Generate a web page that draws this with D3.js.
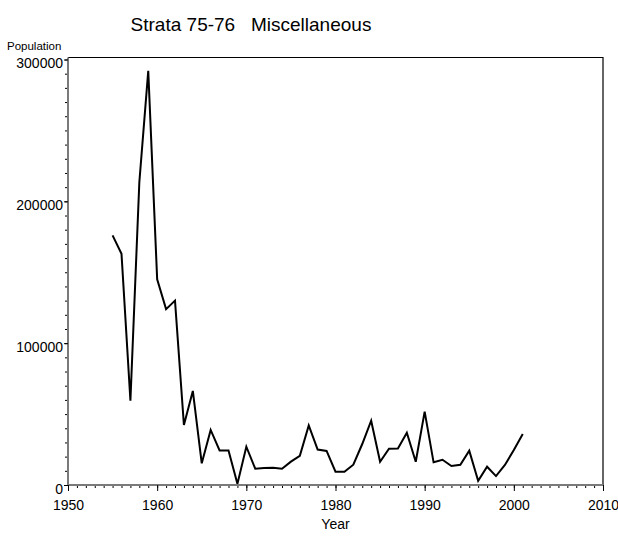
<!DOCTYPE html>
<html>
<head>
<meta charset="utf-8">
<script src="https://cdn.jsdelivr.net/npm/d3@7"></script>
<style>
  html, body { margin: 0; padding: 0; background: #fff; }
  svg { display: block; font-family: Arial, "Liberation Sans", sans-serif; }
</style>
</head>
<body>
<svg id="chart" width="618" height="537"></svg>
<script>
// Yearly population estimates, stratum 75-76, miscellaneous species
const years = [1955,1956,1957,1958,1959,1960,1961,1962,1963,1964,1965,1966,1967,1968,1969,1970,
  1971,1972,1973,1974,1975,1976,1977,1978,1979,1980,1981,1982,1983,1984,1985,1986,1987,1988,
  1989,1990,1991,1992,1993,1994,1995,1996,1997,1998,1999,2000,2001];
const population = [176000,163000,59500,213500,292000,145000,124000,130000,42300,66300,15300,38800,
  24400,24400,800,27000,11500,12000,12200,11500,16500,20600,42000,25000,24000,9400,9400,14300,
  28900,45300,16400,25600,25800,36900,16400,51700,16000,17800,13400,14300,24200,3000,12900,6300,
  14100,24700,36000];
const xTicks = [1950,1960,1970,1980,1990,2000,2010];
const yTicks = [0,100000,200000,300000];

const svg = d3.select("#chart");
const plotL = 68, plotR = 603, plotT = 59.5, plotB = 485, frameT = 57.5;

const x = d3.scaleLinear().domain([1950, 2010]).range([plotL, plotR]);
const y = d3.scaleLinear().domain([0, 300000]).range([plotB, plotT]);

// frame: top and right edges
svg.append("path")
  .attr("d", `M${plotL},${frameT}H${plotR}V${plotB}`)
  .attr("fill", "none").attr("stroke", "#000").attr("stroke-width", 1.2);

// minor ticks
const gx = svg.append("g").attr("transform", `translate(0,${plotB})`);
gx.call(d3.axisBottom(x).tickValues(d3.range(1950, 2011, 1)).tickSize(3).tickFormat(""))
  .call(g => g.select(".domain").remove());
const gy = svg.append("g").attr("transform", `translate(${plotL},0)`);
gy.call(d3.axisLeft(y).tickValues(d3.range(0, 300001, 10000)).tickSize(3).tickFormat(""))
  .call(g => g.select(".domain").remove());

// major axes
const ax = svg.append("g").attr("transform", `translate(0,${plotB})`)
  .call(d3.axisBottom(x).tickValues(xTicks).tickSize(6).tickPadding(9).tickFormat(d3.format("d")));
const ay = svg.append("g").attr("transform", `translate(${plotL},0)`)
  .call(d3.axisLeft(y).tickValues(yTicks).tickSize(4).tickPadding(1).tickFormat(d3.format("d")));

ax.select(".domain").attr("d", `M${plotL},0H${plotR}`);
ay.select(".domain").attr("d", `M0,${plotB}V${frameT}`);
[ax, ay].forEach(g => {
  g.select(".domain").attr("stroke", "#7a7a7a").attr("stroke-width", 2);
  g.selectAll(".tick text").attr("font-family", "Arial, 'Liberation Sans', sans-serif")
    .attr("font-size", 14).attr("fill", "#000");
});
ay.selectAll(".tick text").attr("dy", "0.58em");
svg.selectAll(".tick line").attr("stroke", "#000");

// series line
svg.append("path")
  .datum(years.map((yr, i) => [yr, population[i]]))
  .attr("fill", "none").attr("stroke", "#000").attr("stroke-width", 2)
  .attr("stroke-linejoin", "miter")
  .attr("d", d3.line().x(d => x(d[0])).y(d => y(d[1])));

// titles
svg.append("text").attr("x", 251).attr("y", 31).attr("text-anchor", "middle")
  .attr("font-size", 19).attr("fill", "#000").attr("xml:space", "preserve")
  .text("Strata 75-76   Miscellaneous");
svg.append("text").attr("x", 7).attr("y", 50).attr("font-size", 11.5).attr("fill", "#000")
  .text("Population");
svg.append("text").attr("x", (plotL + plotR) / 2).attr("y", 529).attr("text-anchor", "middle")
  .attr("font-size", 14).attr("fill", "#000").text("Year");
</script>
</body>
</html>
